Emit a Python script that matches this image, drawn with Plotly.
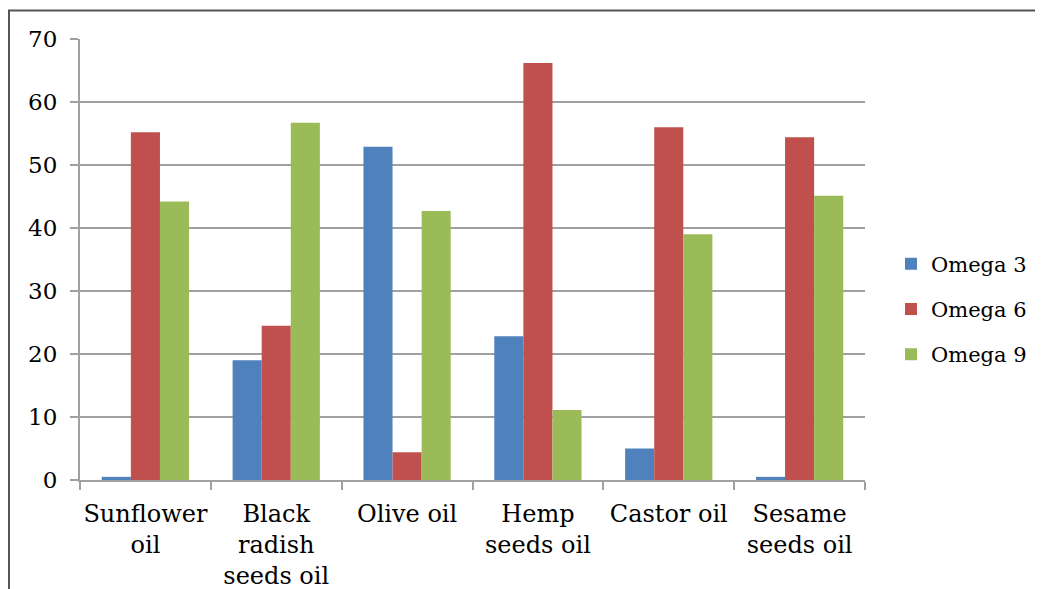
import plotly.graph_objects as go

categories = ["Sunflower<br>oil", "Black<br>radish<br>seeds oil", "Olive oil",
              "Hemp<br>seeds oil", "Castor oil", "Sesame<br>seeds oil"]
omega3 = [0.5, 19.0, 52.9, 22.8, 5.0, 0.5]
omega6 = [55.2, 24.5, 4.4, 66.2, 56.0, 54.4]
omega9 = [44.2, 56.7, 42.7, 11.1, 39.0, 45.1]
series_names = ["Omega 3", "Omega 6", "Omega 9"]
colors = ["#4F81BD", "#C0504D", "#9BBB59"]

font_family = "DejaVu Serif, Liberation Serif, serif"

fig = go.Figure()
for name, vals, c in zip(series_names, [omega3, omega6, omega9], colors):
    fig.add_trace(go.Bar(x=categories, y=vals, name=name, marker_color=c,
                         marker_line_width=0, legendgroup=name))

W, H = 1035, 581
L, T, B = 72, 31, 109
R = W - 857
pw = W - L - R
ph = H - T - B


def px_x(p):
    return (p - L) / pw


def px_y(p):
    return 1 - (p - T) / ph


fig.update_layout(
    width=W, height=H,
    margin=dict(l=L, r=R, t=T, b=B, pad=0, autoexpand=False),
    paper_bgcolor="white", plot_bgcolor="white",
    barmode="group", bargap=0.333, bargroupgap=0,
    font=dict(family=font_family, size=23, color="#000000"),
    legend=dict(x=px_x(883), y=px_y(301), xanchor="left", yanchor="middle",
                font=dict(size=21), traceorder="grouped", tracegroupgap=15,
                itemwidth=30, bgcolor="rgba(0,0,0,0)"),
    xaxis=dict(type="category", tickson="boundaries", ticks="outside", ticklen=8,
               tickcolor="#A0A0A0", tickwidth=2, showline=True, linecolor="#A0A0A0",
               linewidth=2, showgrid=False, tickfont=dict(size=24),
               tickangle=0, automargin=False, ticklabelstandoff=11),
    yaxis=dict(range=[0, 70], dtick=10, ticks="outside", ticklen=8,
               tickcolor="#A0A0A0", tickwidth=2, showline=True, linecolor="#A0A0A0",
               linewidth=2, showgrid=True, gridcolor="#A0A0A0", gridwidth=2,
               zeroline=False, ticklabelstandoff=8, tickfont=dict(size=23),
               automargin=False),
    shapes=[dict(type="rect", xref="paper", yref="paper",
                 x0=px_x(1), x1=px_x(W + 20),
                 y0=px_y(H + 20), y1=px_y(2.5),
                 line=dict(color="#555555", width=2), layer="above")],
)

fig.write_html("out.html")
